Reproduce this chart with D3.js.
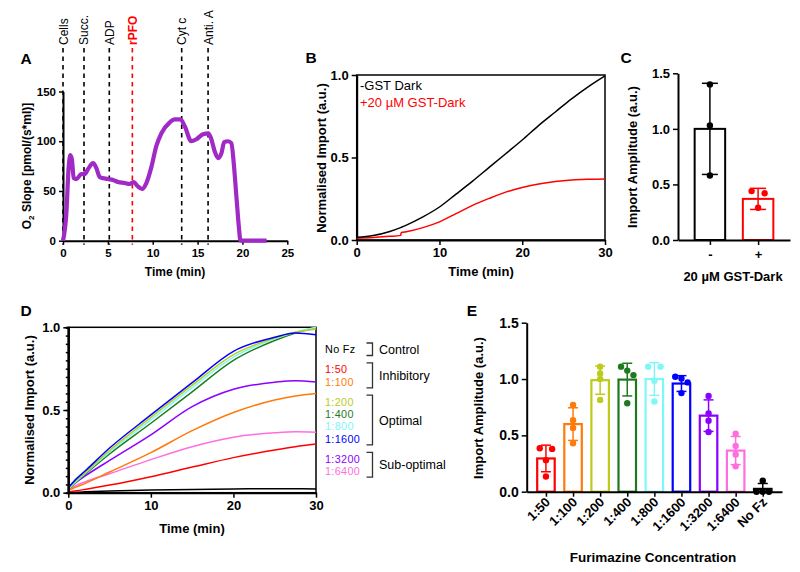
<!DOCTYPE html>
<html><head><meta charset="utf-8">
<script src="https://cdn.jsdelivr.net/npm/d3@7"></script>
<style>
body{margin:0;background:#fff;}
svg{font-family:"Liberation Sans",Arial,Helvetica,sans-serif;}
</style></head><body>
<svg id="c" width="800" height="572"></svg>
<script>
// ---------- Panel A data ----------
const aTime = [0,0.37,0.63,0.82,1.0,1.19,1.49,2.04,2.42,2.79,3.35,3.72,4.09,5.0,5.58,6.13,6.88,7.43,7.88,8.3,8.81,9.29,9.85,10.4,10.97,11.9,12.45,13.1,13.57,14.3,14.87,15.6,16.2,16.5,16.9,17.3,17.66,17.96,18.4,18.77,19.03,19.33,19.6,19.78,21,22.7];
const aO2   = [0,27,74,86,81,63,62,67,67,72,78,73,64,62,61,59,58,57,59,55,52,58,74,95,108,119,122,122,115,100,102,107,108,103,90,83,88,99,100,98,78,44,14,0,0,0];
const aEvents = ["Cells","Succ.","ADP","rPFO","Cyt c","Anti. A"];
const aEventTimes = [0,2.34,5.16,7.73,13.23,16.17];
const aXTicks = [0,5,10,15,20,25];
const aYTicks = [0,50,100,150];

// ---------- Panel B data ----------
const bTime   = [0,2,4,5.3,5.4,6,8,10,12,14,16,18,20,22,24,26,28,30];
const bNoGST  = [0.016,0.027,0.052,0.075,0.077,0.09,0.14,0.2,0.278,0.357,0.44,0.523,0.606,0.695,0.776,0.857,0.93,0.995];
const bGST    = [0.01,0.015,0.022,0.028,0.045,0.05,0.075,0.11,0.16,0.21,0.252,0.29,0.318,0.34,0.355,0.364,0.368,0.37];
const bLegend = ["-GST Dark","+20 \u00b5M GST-Dark"];

// ---------- Panel C data ----------
const cCats   = ["-","+"];
const cMeans  = [1.0,0.37];
const cSD     = [0.41,0.095];
const cPoints = [[1.40,1.03,0.58],[0.44,0.42,0.29]];

// ---------- Panel D data ----------
const dTime = [0,1,2,5,10,15,20,25,27.5,30];
const dNames = ["No Fz","1:50","1:100","1:200","1:400","1:800","1:1600","1:3200","1:6400"];
const dNoFz  = [0.0,0.003,0.005,0.01,0.016,0.02,0.023,0.024,0.024,0.023];
const d50    = [0.005,0.012,0.02,0.046,0.097,0.155,0.212,0.258,0.278,0.294];
const d100   = [0.015,0.035,0.055,0.125,0.242,0.375,0.485,0.56,0.585,0.6];
const d200   = [0.025,0.075,0.12,0.255,0.455,0.65,0.835,0.935,0.97,0.99];
const d400   = [0.02,0.065,0.11,0.235,0.42,0.61,0.80,0.92,0.965,1.0];
const d800   = [0.02,0.07,0.115,0.245,0.44,0.635,0.82,0.93,0.97,1.0];
const d1600  = [0.03,0.085,0.13,0.27,0.47,0.665,0.855,0.94,0.965,0.955];
const d3200  = [0.025,0.065,0.1,0.195,0.35,0.52,0.625,0.668,0.677,0.67];
const d6400  = [0.02,0.045,0.065,0.115,0.2,0.278,0.335,0.362,0.368,0.365];
const dGroups = ["Control","Inhibitory","Optimal","Sub-optimal"];
const dGroupOf = [0,1,1,2,2,2,2,3,3];

// ---------- Panel E data ----------
const eCats  = ["1:50","1:100","1:200","1:400","1:800","1:1600","1:3200","1:6400","No Fz"];
const eMeans = [0.295,0.60,0.99,0.995,1.0,0.96,0.675,0.365,0.025];
const eSD    = [0.118,0.145,0.125,0.145,0.145,0.07,0.14,0.125,0.048];
const ePoints = [[0.38,0.385,0.28,0.135],[0.77,0.635,0.565,0.43],[1.11,1.05,1.0,0.815],[1.075,1.11,1.035,0.785],
                 [1.11,1.11,0.985,0.80],[1.005,1.02,0.97,0.875],[0.85,0.695,0.63,0.53],[0.515,0.405,0.33,0.225],[0.097,0.0,0.0,0.0]];

// ---------- styles ----------
const seriesColor = {"No Fz":"#000000","1:50":"#ff0000","1:100":"#ff7a0a","1:200":"#bccb1c","1:400":"#1f7a1f",
  "1:800":"#7ff7f7","1:1600":"#0000ff","1:3200":"#8c00ff","1:6400":"#ff6ee0"};
const purple = "#a02ac6";
const FONT = "'Liberation Sans', Arial, Helvetica, sans-serif";

const svg = d3.select("#c");
svg.append("rect").attr("width",800).attr("height",572).attr("fill","#fff");

function styleAxis(g, fs, sw) {
  g.attr("font-family", FONT);
  g.select(".domain").attr("stroke","#000").attr("stroke-width", sw||2);
  g.selectAll(".tick line").attr("stroke","#000").attr("stroke-width",1.5);
  g.selectAll(".tick text").attr("font-size",fs).attr("font-weight","bold").attr("fill","#000");
}
function label(txt,x,y,fs,opts){
  opts = opts||{};
  const t = svg.append("text").attr("x",x).attr("y",y).attr("font-size",fs)
    .attr("font-weight",opts.weight||"bold").attr("fill",opts.fill||"#000")
    .attr("text-anchor",opts.anchor||"middle").attr("font-family",FONT).text(txt);
  if(opts.rot) t.attr("transform",`rotate(${opts.rot},${x},${y})`);
  return t;
}
function swarmOffsets(vals, y, s, thr){
  const idx = vals.map((v,i)=>i).sort((a,b)=>vals[b]-vals[a]);
  const off = new Array(vals.length).fill(0);
  let chains=[], cur=[idx[0]];
  for(let k=1;k<idx.length;k++){
    if(Math.abs(y(vals[idx[k]])-y(vals[idx[k-1]]))<thr) cur.push(idx[k]); else {chains.push(cur); cur=[idx[k]];}
  }
  chains.push(cur);
  chains.forEach(ch=>{
    const n=ch.length;
    ch.forEach((id,i)=>{ off[id] = n%2===0 ? (i-(n-1)/2)*2*s : (i-(n-1)/2)*s; });
  });
  return off;
}

// Panel letters
label("A",26,64,15.5);
label("B",311,63,15.5);
label("C",626,63,15.5);
label("D",26,316,15.5);
label("E",472,316,15.5);

// ================= Panel A =================
{
  const x = d3.scaleLinear().domain([0,25]).range([63,287.3]);
  const y = d3.scaleLinear().domain([0,150]).range([240.7,91.5]);
  aEvents.forEach((ev,i)=>{
    const xx = x(aEventTimes[i]);
    const col = ev==="rPFO" ? "#ff0000" : "#000";
    svg.append("line").attr("x1",xx).attr("x2",xx).attr("y1",48).attr("y2",y(0)+4)
      .attr("stroke",col).attr("stroke-width",1.6).attr("stroke-dasharray","4.5,4");
    label(ev, xx+4.5, 45, 12, {anchor:"start", rot:-90, weight: ev==="rPFO"?"bold":"normal", fill:col});
  });
  const gx = svg.append("g").attr("transform",`translate(0,${y(0)})`)
    .call(d3.axisBottom(x).tickValues(aXTicks).tickSize(4).tickSizeOuter(0).tickPadding(4));
  styleAxis(gx,11.5);
  const gy = svg.append("g").attr("transform",`translate(${x(0)},0)`)
    .call(d3.axisLeft(y).tickValues(aYTicks).tickSize(4).tickSizeOuter(0).tickPadding(3));
  styleAxis(gy,11.5);
  const line = d3.line().x((d,i)=>x(aTime[i])).y(d=>y(d)).curve(d3.curveMonotoneX);
  svg.append("path").datum(aO2).attr("d",line).attr("fill","none").attr("stroke",purple)
    .attr("stroke-width",4.2).attr("stroke-linejoin","round");
  label("Time (min)",175,276,12);
  const yt = svg.append("text").attr("transform","translate(31,166) rotate(-90)").attr("text-anchor","middle")
    .attr("font-size",12).attr("font-weight","bold").attr("font-family",FONT);
  yt.append("tspan").text("O");
  yt.append("tspan").text("2").attr("font-size",8).attr("dy",3);
  yt.append("tspan").text(" Slope [pmol/(s*ml)]").attr("dy",-3);
}

// ================= Panel B =================
{
  const x = d3.scaleLinear().domain([0,30]).range([356.7,605]);
  const y = d3.scaleLinear().domain([0,1]).range([240,75]);
  svg.append("rect").attr("x",x(0)).attr("y",y(1)).attr("width",x(30)-x(0)).attr("height",y(0)-y(1))
    .attr("fill","none").attr("stroke","#000").attr("stroke-width",1.5);
  const gx = svg.append("g").attr("transform",`translate(0,${y(0)})`)
    .call(d3.axisBottom(x).tickValues([0,10,20,30]).tickSize(5).tickSizeOuter(0).tickPadding(3));
  styleAxis(gx,13);
  const gy = svg.append("g").attr("transform",`translate(${x(0)},0)`)
    .call(d3.axisLeft(y).tickValues([0,0.5,1]).tickFormat(d3.format(".1f")).tickSize(5).tickSizeOuter(0).tickPadding(3));
  styleAxis(gy,13);
  const line = d3.line().x((d,i)=>x(bTime[i])).y(d=>y(d)).curve(d3.curveMonotoneX);
  svg.append("path").datum(bGST).attr("d",line).attr("fill","none").attr("stroke","#ff0000").attr("stroke-width",1.5);
  svg.append("path").datum(bNoGST).attr("d",line).attr("fill","none").attr("stroke","#000").attr("stroke-width",1.5);
  label(bLegend[0],360,89.5,13,{anchor:"start",weight:"normal"});
  label(bLegend[1],360,106.5,13,{anchor:"start",weight:"normal",fill:"#ff0000"});
  label("Time (min)",481,276,13);
  label("Normalised Import (a.u.)",326,158,13,{rot:-90});
}

// ================= Panel C =================
{
  const x = d3.scalePoint().domain(cCats).range([678,790]).padding(0.662);
  const y = d3.scaleLinear().domain([0,1.5]).range([240,73.3]);
  const cols = ["#000","#ff0000"];
  const bw = 30.5;
  cCats.forEach((c,i)=>{
    const cx = x(c);
    svg.append("rect").attr("x",cx-bw/2).attr("y",y(cMeans[i])).attr("width",bw).attr("height",y(0)-y(cMeans[i]))
      .attr("fill","#fff").attr("stroke",cols[i]).attr("stroke-width",2);
    const lo = y(cMeans[i]-cSD[i]), hi = y(cMeans[i]+cSD[i]);
    svg.append("line").attr("x1",cx).attr("x2",cx).attr("y1",lo).attr("y2",hi).attr("stroke",cols[i]).attr("stroke-width",1.5);
    [lo,hi].forEach(yy=>svg.append("line").attr("x1",cx-8).attr("x2",cx+8).attr("y1",yy).attr("y2",yy).attr("stroke",cols[i]).attr("stroke-width",1.5));
    const off = swarmOffsets(cPoints[i], y, 6.5, 5);
    cPoints[i].forEach((v,k)=>svg.append("circle").attr("cx",cx+off[k]).attr("cy",y(v)).attr("r",3.2).attr("fill",cols[i]));
  });
  const gx = svg.append("g").attr("transform",`translate(0,${y(0)})`)
    .call(d3.axisBottom(x).tickSize(5).tickSizeOuter(0).tickPadding(5));
  styleAxis(gx,13);
  const gy = svg.append("g").attr("transform",`translate(678,0)`)
    .call(d3.axisLeft(y).tickValues([0,0.5,1,1.5]).tickFormat(d3.format(".1f")).tickSize(5).tickSizeOuter(0).tickPadding(3));
  styleAxis(gy,13);
  label("20 \u00b5M GST-Dark",733,281,13);
  label("Import Amplitude (a.u.)",637,157,13,{rot:-90});
}

// ================= Panel D =================
{
  const x = d3.scaleLinear().domain([0,30]).range([68.3,316]);
  const y = d3.scaleLinear().domain([0,1]).range([492.7,327.3]);
  svg.append("rect").attr("x",x(0)).attr("y",y(1)).attr("width",x(30)-x(0)).attr("height",y(0)-y(1))
    .attr("fill","none").attr("stroke","#000").attr("stroke-width",1.5);
  const series = [dNoFz,d50,d100,d200,d400,d800,d1600,d3200,d6400];
  const line = d3.line().x((d,i)=>x(dTime[i])).y(d=>y(d)).curve(d3.curveMonotoneX);
  const drawOrder = [0,1,8,2,7,4,5,3,6];
  drawOrder.forEach(k=>{
    svg.append("path").datum(series[k]).attr("d",line).attr("fill","none")
      .attr("stroke",seriesColor[dNames[k]]).attr("stroke-width",1.5);
  });
  const gm = svg.append("g").attr("transform",`translate(${x(0)},0)`)
    .call(d3.axisLeft(y).tickValues(d3.range(0,1.0001,0.05)).tickSize(2.5).tickFormat(""));
  styleAxis(gm,13);
  const gx = svg.append("g").attr("transform",`translate(0,${y(0)})`)
    .call(d3.axisBottom(x).tickValues([0,10,20,30]).tickSize(5).tickSizeOuter(0).tickPadding(3));
  styleAxis(gx,13);
  const gy = svg.append("g").attr("transform",`translate(${x(0)},0)`)
    .call(d3.axisLeft(y).tickValues([0,0.5,1]).tickFormat(d3.format(".1f")).tickSize(5).tickSizeOuter(0).tickPadding(3));
  styleAxis(gy,13);
  label("Time (min)",192,533,13);
  label("Normalised Import (a.u.)",34,410,13,{rot:-90});

  // legend with group brackets
  const rowH = 12.4, gap = 7.5, y0 = 349.5;
  const rowY = dNames.map((n,i)=> y0 + i*rowH + dGroupOf[i]*gap);
  dNames.forEach((n,i)=>{
    svg.append("text").attr("x",325).attr("y",rowY[i]).attr("dy","0.36em").attr("font-size",10.8)
      .attr("letter-spacing",0.35).attr("font-family",FONT).attr("fill",seriesColor[n]).text(n);
  });
  dGroups.forEach((g,gi)=>{
    const ys = rowY.filter((v,i)=>dGroupOf[i]===gi);
    const top = d3.min(ys)-6.5, bot = d3.max(ys)+6;
    svg.append("path").attr("d",`M366.5,${top}H372.5V${bot}H366.5`).attr("fill","none")
      .attr("stroke","#333").attr("stroke-width",1.3);
    svg.append("text").attr("x",379).attr("y",(top+bot)/2).attr("dy","0.36em").attr("font-size",12.5)
      .attr("font-family",FONT).attr("fill","#000").text(g);
  });
}

// ================= Panel E =================
{
  const x = d3.scalePoint().domain(eCats).range([526.7,782]).padding(0.71);
  const y = d3.scaleLinear().domain([0,1.5]).range([491.7,322.7]);
  const bw = 17.5;
  eCats.forEach((c,i)=>{
    const cx = x(c), col = seriesColor[c];
    svg.append("rect").attr("x",cx-bw/2).attr("y",y(eMeans[i])).attr("width",bw).attr("height",y(0)-y(eMeans[i]))
      .attr("fill","#fff").attr("stroke",col).attr("stroke-width",2.2);
    const lo = y(Math.max(0,eMeans[i]-eSD[i])), hi = y(eMeans[i]+eSD[i]);
    svg.append("line").attr("x1",cx).attr("x2",cx).attr("y1",lo).attr("y2",hi).attr("stroke",col).attr("stroke-width",1.5);
    [lo,hi].forEach(yy=>svg.append("line").attr("x1",cx-5).attr("x2",cx+5).attr("y1",yy).attr("y2",yy).attr("stroke",col).attr("stroke-width",1.5));
    const off = swarmOffsets(ePoints[i], y, 6.2, 5);
    ePoints[i].forEach((v,k)=>svg.append("circle").attr("cx",cx+off[k]).attr("cy",y(v)).attr("r",3.2).attr("fill",col));
  });
  const gx = svg.append("g").attr("transform",`translate(0,${y(0)})`)
    .call(d3.axisBottom(x).tickSize(5).tickSizeOuter(0).tickFormat(""));
  styleAxis(gx,13);
  eCats.forEach(c=>{
    label(c, x(c)+5, 503, 13, {anchor:"end", rot:-45});
  });
  const gy = svg.append("g").attr("transform",`translate(526.7,0)`)
    .call(d3.axisLeft(y).tickValues([0,0.5,1,1.5]).tickFormat(d3.format(".1f")).tickSize(5).tickSizeOuter(0).tickPadding(3));
  styleAxis(gy,14);
  label("Furimazine Concentration",653,562,13.5);
  label("Import Amplitude (a.u.)",483,408,13,{rot:-90});
}
</script>
</body></html>
